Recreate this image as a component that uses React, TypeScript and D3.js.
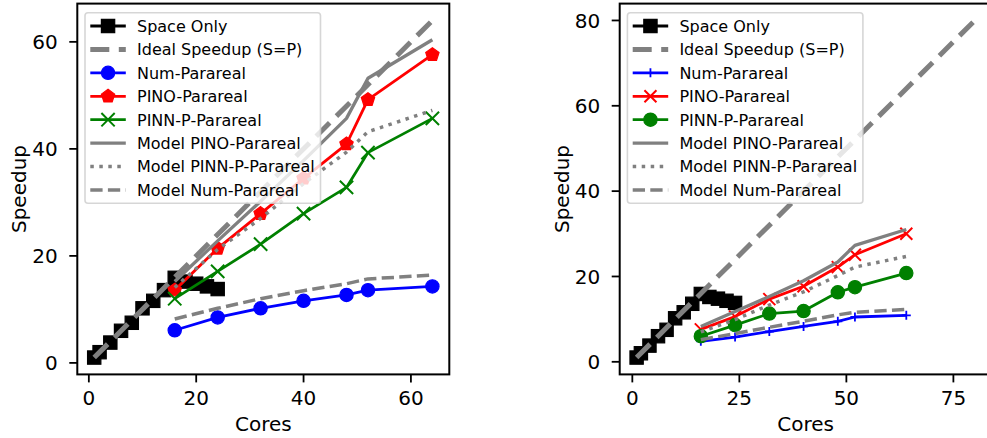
import React from 'react';
import * as d3 from 'd3';

// Core counts
const spaceCores = [1, 2, 4, 6, 8, 10, 12, 14, 16, 18, 20, 22, 24];
const spaceSpeedup = [1.0, 2.0, 3.8, 6.0, 7.5, 10.2, 11.6, 13.6, 15.9, 15.2, 14.8, 14.3, 13.8];
const pararealCores = [16, 24, 32, 40, 48, 52, 64];

// Left panel speedups
const numLeft = [6.1, 8.5, 10.2, 11.6, 12.7, 13.6, 14.3];
const pinoLeft = [13.6, 21.4, 27.9, 34.5, 40.9, 49.2, 57.6];
const pinnLeft = [12.0, 17.1, 22.2, 27.9, 32.8, 39.3, 45.7];
const modelPinoLeft = [15.2, 22.8, 30.2, 37.8, 45.7, 53.2, 60.4];
const modelPinnLeft = [14.1, 21.2, 27.0, 33.5, 39.4, 43.2, 47.2];
const modelNumLeft = [8.2, 10.2, 12.0, 13.5, 14.8, 15.7, 16.4];

// Right panel speedups
const numRight = [4.8, 5.8, 7.1, 8.3, 9.5, 10.5, 10.9];
const pinoRight = [7.6, 10.6, 14.7, 17.7, 22.2, 25.1, 30.0];
const pinnRight = [6.0, 8.6, 11.3, 11.9, 16.3, 17.5, 20.8];
const modelPinoRight = [8.3, 11.8, 15.3, 19.0, 23.4, 27.3, 31.0];
const modelPinnRight = [7.0, 9.9, 13.3, 16.4, 20.2, 22.2, 24.7];
const modelNumRight = [5.2, 6.6, 8.1, 9.5, 11.0, 11.6, 12.3];

// Ideal speedup (S = P)
const idealLeftCores = [1, 64];
const idealRightCores = [1, 80];

const xTicksLeft = [0, 20, 40, 60];
const yTicksLeft = [0, 20, 40, 60];
const xTicksRight = [0, 25, 50, 75];
const yTicksRight = [0, 20, 40, 60, 80];

const labels = [
  'Space Only',
  'Ideal Speedup (S=P)',
  'Num-Parareal',
  'PINO-Parareal',
  'PINN-P-Parareal',
  'Model PINO-Parareal',
  'Model PINN-P-Parareal',
  'Model Num-Parareal',
];

type Marker = 's' | 'o' | 'p' | 'x' | '+' | null;
interface Style {
  color: string;
  width: number;
  dash?: string;
  marker: Marker;
  size: number;
}
interface Series {
  label: string;
  xs: number[];
  ys: number[];
  style: Style;
}

const FONT = 'DejaVu Sans, Verdana, sans-serif';
const GRAY = '#808080';
const AX_W = 372;
const AX_H = 370.8;
const AX_TOP = 3.6;
const TICK = 8;

function MarkerGlyph({ kind, x, y, color, size }: { kind: Marker; x: number; y: number; color: string; size: number }) {
  const h = size / 2;
  switch (kind) {
    case 's':
      return <rect x={x - h} y={y - h} width={size} height={size} fill={color} stroke={color} strokeWidth={1.2} />;
    case 'o':
      return <circle cx={x} cy={y} r={h} fill={color} stroke={color} strokeWidth={1.2} />;
    case 'p': {
      const pts = d3.range(5).map((i) => {
        const a = -Math.PI / 2 + (i * 2 * Math.PI) / 5;
        return `${x + h * Math.cos(a)},${y + h * Math.sin(a)}`;
      });
      return <polygon points={pts.join(' ')} fill={color} stroke={color} strokeWidth={1.2} />;
    }
    case 'x':
      return (
        <path
          d={`M${x - h},${y - h}L${x + h},${y + h}M${x - h},${y + h}L${x + h},${y - h}`}
          stroke={color}
          strokeWidth={2}
          fill="none"
        />
      );
    case '+':
      return (
        <path d={`M${x - h},${y}L${x + h},${y}M${x},${y - h}L${x},${y + h}`} stroke={color} strokeWidth={1.8} fill="none" />
      );
    default:
      return null;
  }
}

function Panel({
  left,
  series,
  xTicks,
  yTicks,
}: {
  left: number;
  series: Series[];
  xTicks: number[];
  yTicks: number[];
}) {
  const allX = series.flatMap((s) => s.xs);
  const allY = series.flatMap((s) => s.ys);
  const [x0, x1] = d3.extent(allX) as [number, number];
  const [y0, y1] = d3.extent(allY) as [number, number];
  const mx = (x1 - x0) * 0.05;
  const my = (y1 - y0) * 0.05;
  const x = d3.scaleLinear().domain([x0 - mx, x1 + mx]).range([left, left + AX_W]);
  const y = d3.scaleLinear().domain([y0 - my, y1 + my]).range([AX_TOP + AX_H, AX_TOP]);
  const line = d3
    .line<[number, number]>()
    .x((d) => x(d[0]))
    .y((d) => y(d[1]));

  const bottom = AX_TOP + AX_H;
  const legX = left + 7.7;
  const legY = AX_TOP + 9.1;
  const rowH = 23.43;

  return (
    <g fontFamily={FONT}>
      {series.map((s, i) => {
        const pts = s.xs.map((v, j) => [v, s.ys[j]] as [number, number]);
        return (
          <g key={i}>
            <path
              d={line(pts) ?? ''}
              fill="none"
              stroke={s.style.color}
              strokeWidth={s.style.width}
              strokeDasharray={s.style.dash}
              strokeLinejoin="round"
            />
            {s.style.marker &&
              pts.map((p, j) => (
                <MarkerGlyph key={j} kind={s.style.marker} x={x(p[0])} y={y(p[1])} color={s.style.color} size={s.style.size} />
              ))}
          </g>
        );
      })}

      {/* axes frame */}
      <rect x={left} y={AX_TOP} width={AX_W} height={AX_H} fill="none" stroke="#000" strokeWidth={2} />

      {xTicks.map((t) => (
        <g key={'x' + t}>
          <line x1={x(t)} x2={x(t)} y1={bottom} y2={bottom + TICK} stroke="#000" strokeWidth={1.8} />
          <text x={x(t)} y={bottom + TICK + 22.6} textAnchor="middle" fontSize={20}>
            {t}
          </text>
        </g>
      ))}
      {yTicks.map((t) => (
        <g key={'y' + t}>
          <line x1={left - TICK} x2={left} y1={y(t)} y2={y(t)} stroke="#000" strokeWidth={1.8} />
          <text x={left - TICK - 11.5} y={y(t) + 7.3} textAnchor="end" fontSize={20}>
            {t}
          </text>
        </g>
      ))}

      <text x={left + AX_W / 2} y={431.3} textAnchor="middle" fontSize={20}>
        Cores
      </text>
      <text
        transform={`translate(${left - 58},${AX_TOP + AX_H / 2}) rotate(-90)`}
        textAnchor="middle"
        dominantBaseline="central"
        fontSize={20}
      >
        Speedup
      </text>

      {/* legend */}
      <rect
        x={legX}
        y={legY}
        width={235.5}
        height={190.5}
        rx={3}
        fill="#fff"
        fillOpacity={0.8}
        stroke="#cccccc"
        strokeOpacity={0.8}
        strokeWidth={1.6}
      />
      {series.map((s, i) => {
        const cy = legY + 13.3 + i * rowH;
        const hx0 = legX + 5.3;
        const hx1 = legX + 40.8;
        return (
          <g key={'l' + i}>
            <line
              x1={hx0}
              x2={hx1}
              y1={cy}
              y2={cy}
              stroke={s.style.color}
              strokeWidth={s.style.width}
              strokeDasharray={s.style.dash}
            />
            {s.style.marker && (
              <MarkerGlyph kind={s.style.marker} x={(hx0 + hx1) / 2} y={cy} color={s.style.color} size={s.style.size} />
            )}
            <text x={legX + 52} y={cy + 5.9} fontSize={16}>
              {s.label}
            </text>
          </g>
        );
      })}
    </g>
  );
}

const idealStyle: Style = { color: GRAY, width: 5, dash: '19 9.5', marker: null, size: 0 };
const modelPinoStyle: Style = { color: GRAY, width: 3.3, marker: null, size: 0 };
const modelPinnStyle: Style = { color: GRAY, width: 3.5, dash: '3.5 5.5', marker: null, size: 0 };
const modelNumStyle: Style = { color: GRAY, width: 3.5, dash: '12.3 5.3', marker: null, size: 0 };
const spaceStyle: Style = { color: '#000', width: 2.8, marker: 's', size: 13.3 };

const leftSeries: Series[] = [
  { label: labels[0], xs: spaceCores, ys: spaceSpeedup, style: spaceStyle },
  { label: labels[1], xs: idealLeftCores, ys: idealLeftCores, style: idealStyle },
  { label: labels[2], xs: pararealCores, ys: numLeft, style: { color: '#0000ff', width: 2.8, marker: 'o', size: 13.3 } },
  { label: labels[3], xs: pararealCores, ys: pinoLeft, style: { color: '#ff0000', width: 2.8, marker: 'p', size: 14 } },
  { label: labels[4], xs: pararealCores, ys: pinnLeft, style: { color: '#008000', width: 2.8, marker: 'x', size: 13.3 } },
  { label: labels[5], xs: pararealCores, ys: modelPinoLeft, style: modelPinoStyle },
  { label: labels[6], xs: pararealCores, ys: modelPinnLeft, style: modelPinnStyle },
  { label: labels[7], xs: pararealCores, ys: modelNumLeft, style: modelNumStyle },
];

const rightSeries: Series[] = [
  { label: labels[0], xs: spaceCores, ys: spaceSpeedup, style: spaceStyle },
  { label: labels[1], xs: idealRightCores, ys: idealRightCores, style: idealStyle },
  { label: labels[2], xs: pararealCores, ys: numRight, style: { color: '#0000ff', width: 2.8, marker: '+', size: 9 } },
  { label: labels[3], xs: pararealCores, ys: pinoRight, style: { color: '#ff0000', width: 2.8, marker: 'x', size: 12 } },
  { label: labels[4], xs: pararealCores, ys: pinnRight, style: { color: '#008000', width: 2.8, marker: 'o', size: 13.3 } },
  { label: labels[5], xs: pararealCores, ys: modelPinoRight, style: modelPinoStyle },
  { label: labels[6], xs: pararealCores, ys: modelPinnRight, style: modelPinnStyle },
  { label: labels[7], xs: pararealCores, ys: modelNumRight, style: modelNumStyle },
];

export default function App() {
  return (
    <svg
      width={987}
      height={438}
      viewBox="0 0 987 438"
      style={{ position: 'absolute', left: 0, top: 0, background: '#fff' }}
    >
      <rect width={987} height={438} fill="#fff" />
      <Panel left={77.3} series={leftSeries} xTicks={xTicksLeft} yTicks={yTicksLeft} />
      <Panel left={619.7} series={rightSeries} xTicks={xTicksRight} yTicks={yTicksRight} />
    </svg>
  );
}
